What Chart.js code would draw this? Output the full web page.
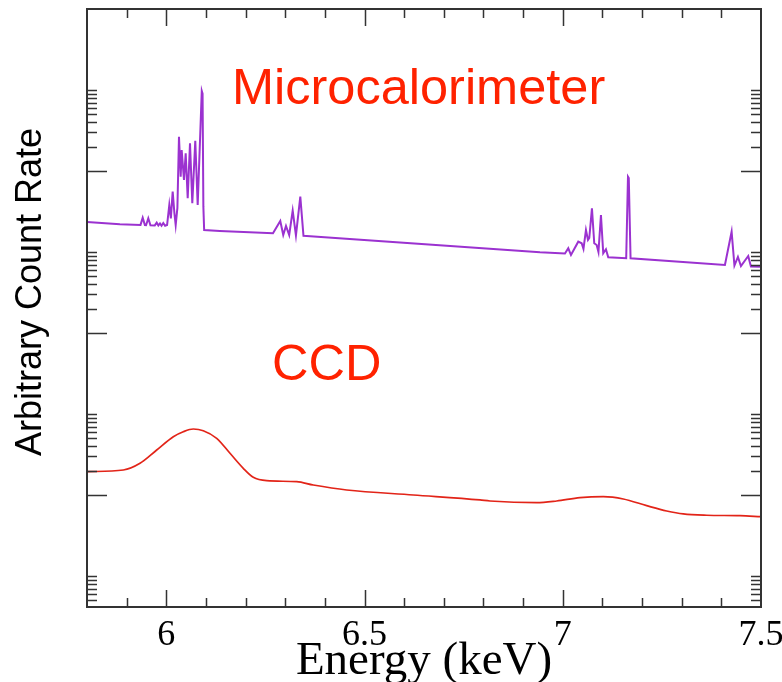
<!DOCTYPE html>
<html>
<head>
<meta charset="utf-8">
<script src="https://cdn.jsdelivr.net/npm/chart.js@4.4.1/dist/chart.umd.min.js"></script>
<style>
  html, body { margin: 0; padding: 0; background: #fff; }
  canvas { display: block; }
</style>
</head>
<body>
<canvas id="spectrum" width="782" height="682"></canvas>
<script>
// Simulated Fe K region: microcalorimeter vs CCD resolution (keV, arbitrary rate)
const microEnergy = [
  5.800, 5.883, 5.935, 5.9405, 5.946, 5.949, 5.9546, 5.960, 5.971, 5.9758,
  5.980, 5.9841, 5.988, 5.9924, 5.997, 6.002, 6.0076, 6.0115, 6.0161, 6.0205,
  6.0237, 6.028, 6.032, 6.0363, 6.0388, 6.0446, 6.0489, 6.054, 6.0598, 6.0656,
  6.0731, 6.0792, 6.0895, 6.0915, 6.0935, 6.0955, 6.135, 6.2691, 6.2875, 6.295,
  6.3019, 6.310, 6.3188, 6.327, 6.338, 6.346, 6.3541, 6.9425, 7.0055, 7.0139,
  7.0207, 7.0391, 7.0477, 7.0522, 7.0585, 7.0636, 7.0669, 7.0736, 7.0794, 7.0855,
  7.090, 7.0963, 7.1021, 7.1089, 7.1147, 7.160, 7.1645, 7.1665, 7.171, 7.409,
  7.4259, 7.433, 7.4418, 7.4494, 7.4678, 7.4746, 7.500
];
const microRate = [
  2.347e5, 2.198e5, 2.16e5, 2.652e5, 2.15e5, 2.14e5, 2.606e5, 2.14e5, 2.13e5, 2.30e5,
  2.12e5, 2.25e5, 2.11e5, 2.28e5, 2.11e5, 2.15e5, 3.804e5, 2.6e5, 5.552e5, 3.0e5,
  2.154e5, 3.5e5, 2.652e6, 8.505e5, 1.816e6, 7.743e5, 1.654e6, 4.603e5, 2.198e6, 3.993e5,
  2.366e6, 3.804e5, 9.72e6, 9.0e6, 3.63e5, 1.869e5, 1.816e5, 1.702e5, 2.414e5, 1.621e5,
  2.094e5, 1.621e5, 3.236e5, 1.60e5, 4.816e5, 1.585e5, 1.576e5, 9.91e4, 9.58e4, 1.111e5,
  9.18e4, 1.341e5, 1.281e5, 1.089e5, 1.869e5, 1.407e5, 1.489e5, 3.464e5, 1.281e5, 1.220e5,
  1.0e5, 2.863e5, 9.64e4, 1.080e5, 8.60e4, 8.36e4, 8.505e5, 8.2e5, 8.36e4, 6.91e4,
  1.781e5, 6.81e4, 8.68e4, 6.72e4, 8.93e4, 6.62e4, 6.58e4
];
const ccdEnergy = [
  5.800, 5.8916, 5.9337, 5.9758, 6.0177, 6.0429, 6.0681, 6.0933, 6.1271, 6.1607,
  6.1942, 6.2194, 6.2532, 6.3289, 6.3707, 6.455, 6.623, 6.7912, 6.8164, 6.9342,
  6.9846, 7.0434, 7.1022, 7.1526, 7.2116, 7.2621, 7.3039, 7.3629, 7.4469, 7.500
];
const ccdRate = [
  194.0, 203.5, 246.3, 359.4, 524.6, 604.6, 652.8, 622.0, 501.2, 327.2,
  213.6, 165.4, 150.2, 146.0, 132.9, 115.3, 100.0, 86.8, 84.3, 80.3,
  84.3, 92.6, 95.3, 89.3, 73.8, 63.5, 58.3, 56.2, 55.5, 54.0
];

const xTickValues = [6, 6.5, 7, 7.5];
const yMajorTicks = [1e2, 1e4, 1e6];
const yMinorDecades = [1, 1e2, 1e4, 1e6];

const toPoints = (xs, ys) => xs.map((x, i) => ({ x, y: ys[i] }));

// box around the plot with inward ticks on all four sides
const frameTicks = {
  id: 'frameTicks',
  afterDraw(chart) {
    const { ctx, chartArea: a, scales: { x, y } } = chart;
    ctx.save();
    ctx.strokeStyle = '#333';
    ctx.lineWidth = 2;
    ctx.strokeRect(a.left, a.top, a.right - a.left, a.bottom - a.top);

    ctx.lineWidth = 1.5;
    ctx.beginPath();
    for (let i = 1; i < 17; i++) {
      const v = 5.8 + i * 0.1;
      const px = Math.round(x.getPixelForValue(v)) + 0.5;
      const major = xTickValues.some(t => Math.abs(t - v) < 1e-6);
      const len = major ? 17 : 9;
      ctx.moveTo(px, a.bottom); ctx.lineTo(px, a.bottom - len);
      ctx.moveTo(px, a.top); ctx.lineTo(px, a.top + len);
    }
    yMajorTicks.forEach(v => {
      const py = Math.round(y.getPixelForValue(v)) + 0.5;
      ctx.moveTo(a.left, py); ctx.lineTo(a.left + 20, py);
      ctx.moveTo(a.right, py); ctx.lineTo(a.right - 20, py);
    });
    yMinorDecades.forEach(d => {
      for (let k = 2; k <= 10; k++) {
        const v = k * d;
        if (v < y.min || v > y.max) continue;
        const py = Math.round(y.getPixelForValue(v)) + 0.5;
        ctx.moveTo(a.left, py); ctx.lineTo(a.left + 10, py);
        ctx.moveTo(a.right, py); ctx.lineTo(a.right - 10, py);
      }
    });
    ctx.stroke();

    // curve labels and the rotated y title
    ctx.fillStyle = '#ff2200';
    ctx.font = '50.5px "Liberation Sans", Arial, sans-serif';
    ctx.textBaseline = 'alphabetic';
    ctx.textAlign = 'left';
    ctx.fillText('Microcalorimeter', 232, 104);
    ctx.fillText('CCD', 272, 380);

    ctx.fillStyle = '#000';
    ctx.font = '36px "Liberation Sans", Arial, sans-serif';
    ctx.translate(41, 292);
    ctx.rotate(-Math.PI / 2);
    ctx.textAlign = 'center';
    ctx.fillText('Arbitrary Count Rate', 0, 0);
    ctx.restore();
  }
};

new Chart(document.getElementById('spectrum').getContext('2d'), {
  type: 'line',
  data: {
    datasets: [
      {
        label: 'Microcalorimeter',
        data: toPoints(microEnergy, microRate),
        borderColor: 'rgb(155, 50, 208)',
        borderWidth: 2,
        tension: 0,
        pointRadius: 0,
      },
      {
        label: 'CCD',
        data: toPoints(ccdEnergy, ccdRate),
        borderColor: 'rgb(226, 36, 24)',
        borderWidth: 1.7,
        cubicInterpolationMode: 'monotone',
        pointRadius: 0,
      },
    ],
  },
  options: {
    responsive: false,
    animation: false,
    devicePixelRatio: 1,
    layout: { padding: { left: 87, right: 21, top: 9, bottom: 0 } },
    plugins: { legend: { display: false }, tooltip: { enabled: false } },
    scales: {
      x: {
        type: 'linear',
        min: 5.8,
        max: 7.5,
        grid: { display: false },
        border: { display: false },
        afterBuildTicks: scale => { scale.ticks = xTickValues.map(value => ({ value })); },
        afterFit: scale => {
          scale.height = 75;
          scale.paddingLeft = 0;
          scale.paddingRight = 0;
        },
        ticks: {
          callback: v => String(v),
          color: '#000',
          padding: -1,
          maxRotation: 0,
          font: { family: '"Liberation Serif", "Times New Roman", serif', size: 36 },
        },
        title: {
          display: true,
          text: 'Energy (keV)',
          color: '#000',
          padding: { top: 0, bottom: -3 },
          font: { family: '"Liberation Serif", "Times New Roman", serif', size: 47, lineHeight: 1 },
        },
      },
      y: {
        type: 'logarithmic',
        display: false,
        min: 4.14,
        max: 1e8,
      },
    },
  },
  plugins: [frameTicks],
});
</script>
</body>
</html>
